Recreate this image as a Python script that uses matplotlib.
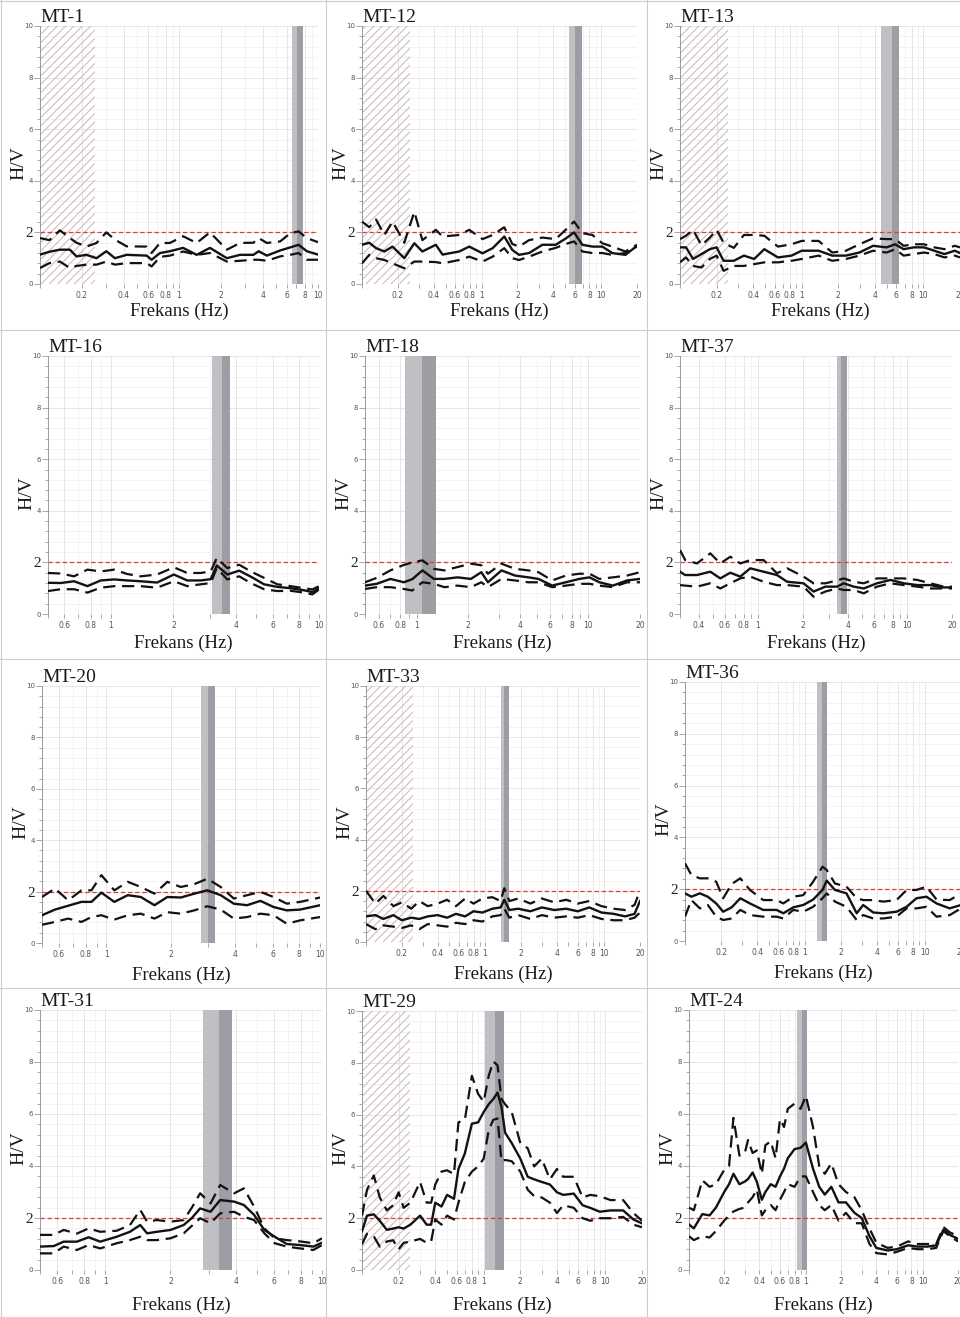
import matplotlib
matplotlib.use('Agg')
import matplotlib.pyplot as plt
from matplotlib.ticker import FixedLocator, FixedFormatter, NullFormatter, MultipleLocator
from matplotlib.lines import Line2D

# ---------------- data ----------------
MT1_f = [0.1, 0.117, 0.139, 0.164, 0.183, 0.216, 0.255, 0.30, 0.346, 0.42, 0.585, 0.635, 0.73, 0.86, 1.07,
         1.34, 1.67, 2.21, 2.75, 3.43, 3.74, 4.29, 5.34, 6.33, 7.25, 8.32, 10]
MT1_mean = [1.14, 1.25, 1.33, 1.33, 1.07, 1.13, 1.0, 1.27, 1.0, 1.13, 1.1, 0.94, 1.2, 1.27, 1.4,
            1.13, 1.4, 1.0, 1.13, 1.13, 1.27, 1.1, 1.3, 1.42, 1.52, 1.27, 1.14]
MT1_up = [1.78, 1.7, 2.08, 1.78, 1.6, 1.45, 1.59, 2.0, 1.72, 1.46, 1.45, 1.2, 1.59, 1.59, 1.85,
          1.59, 2.0, 1.33, 1.59, 1.6, 1.78, 1.59, 1.65, 1.97, 2.04, 1.78, 1.62]
MT1_lo = [0.62, 0.81, 0.87, 0.62, 0.7, 0.75, 0.75, 0.87, 0.75, 0.81, 0.81, 0.68, 1.05, 1.1, 1.26,
          1.13, 1.2, 0.87, 0.9, 0.94, 0.94, 0.9, 1.07, 1.13, 1.2, 0.94, 0.94]
MT1_band = [6.5, 7.05, 7.8]

MT12_f = [0.1, 0.115, 0.131, 0.154, 0.18, 0.226, 0.274, 0.32, 0.415, 0.472, 0.651, 0.789, 1.02, 1.24, 1.55,
          1.81, 2.06, 2.5, 3.23, 4.17, 5.06, 5.95, 6.98, 8.47, 10.25, 12.4, 16.0, 20]
MT12_mean = [1.52, 1.6, 1.39, 1.26, 1.45, 1.0, 1.58, 1.26, 1.52, 1.14, 1.26, 1.45, 1.19, 1.39, 1.84,
             1.32, 1.13, 1.2, 1.52, 1.52, 1.76, 2.0, 1.52, 1.45, 1.45, 1.2, 1.13, 1.48]
MT12_up = [2.42, 2.2, 2.5, 1.9, 2.42, 1.6, 2.8, 1.7, 2.1, 1.84, 1.9, 2.1, 1.74, 1.9, 2.2,
           1.55, 1.45, 1.7, 1.8, 1.74, 2.1, 2.42, 1.97, 1.9, 1.58, 1.45, 1.26, 1.52]
MT12_lo = [0.8, 1.13, 1.0, 0.93, 0.8, 0.61, 0.87, 0.87, 0.85, 0.8, 0.93, 1.06, 0.87, 1.06, 1.39,
           1.0, 0.93, 1.06, 1.26, 1.4, 1.55, 1.65, 1.26, 1.2, 1.2, 1.13, 1.2, 1.45]
MT12_band = [5.4, 6.0, 6.9]

MT13_f = [0.1, 0.112, 0.128, 0.15, 0.176, 0.2, 0.228, 0.277, 0.335, 0.407, 0.493, 0.638, 0.825, 1.0, 1.38,
          1.78, 2.31, 2.98, 3.86, 4.99, 5.86, 6.88, 8.36, 10.1, 12.3, 14.9, 18.1, 20]
MT13_mean = [1.42, 1.42, 0.97, 1.16, 1.35, 1.42, 0.9, 0.9, 1.1, 0.97, 1.35, 1.03, 1.1, 1.29, 1.29,
             1.1, 1.1, 1.22, 1.48, 1.42, 1.54, 1.35, 1.42, 1.42, 1.29, 1.16, 1.29, 1.2]
MT13_up = [1.74, 1.87, 2.1, 1.5, 1.8, 2.1, 1.6, 1.4, 1.9, 1.9, 1.87, 1.45, 1.54, 1.67, 1.67,
           1.22, 1.29, 1.54, 1.77, 1.74, 1.74, 1.48, 1.54, 1.54, 1.42, 1.35, 1.48, 1.42]
MT13_lo = [0.84, 1.03, 0.7, 0.64, 0.97, 1.1, 0.51, 0.7, 0.7, 0.77, 0.84, 0.84, 0.9, 0.97, 1.1,
           0.9, 0.97, 1.1, 1.29, 1.22, 1.35, 1.1, 1.16, 1.22, 1.16, 1.03, 1.1, 1.03]
MT13_band = [4.5, 5.5, 6.35]

MT16_f = [0.5, 0.575, 0.667, 0.773, 0.895, 1.04, 1.2, 1.39, 1.67, 2.01, 2.33, 2.7, 3.02, 3.23, 3.63,
          4.14, 4.7, 5.45, 6.31, 7.31, 8.47, 9.29, 10]
MT16_mean = [1.21, 1.2, 1.27, 1.08, 1.3, 1.34, 1.3, 1.27, 1.22, 1.53, 1.3, 1.3, 1.35, 1.88, 1.53,
             1.68, 1.45, 1.15, 1.05, 1.0, 0.92, 0.85, 1.0]
MT16_up = [1.59, 1.57, 1.46, 1.72, 1.65, 1.72, 1.55, 1.46, 1.53, 1.81, 1.59, 1.59, 1.65, 2.17, 1.78,
           1.91, 1.65, 1.4, 1.15, 1.08, 1.0, 0.95, 1.08]
MT16_lo = [0.89, 0.96, 0.96, 0.83, 1.02, 1.08, 1.08, 1.08, 1.02, 1.27, 1.08, 1.15, 1.2, 1.78, 1.34,
           1.46, 1.2, 0.96, 0.89, 0.9, 0.83, 0.76, 0.95]
MT16_band = [3.08, 3.43, 3.75]

MT18_f = [0.5, 0.585, 0.703, 0.842, 0.943, 1.08, 1.26, 1.45, 1.73, 2.07, 2.38, 2.6, 3.12, 3.74, 4.48,
          5.12, 6.16, 7.39, 8.86, 10.16, 11.6, 13.9, 16.8, 20]
MT18_mean = [1.1, 1.17, 1.36, 1.23, 1.35, 1.69, 1.36, 1.36, 1.42, 1.36, 1.62, 1.23, 1.69, 1.49, 1.42,
             1.36, 1.1, 1.23, 1.36, 1.42, 1.23, 1.1, 1.3, 1.36]
MT18_up = [1.23, 1.4, 1.69, 1.9, 2.0, 2.08, 1.75, 1.69, 1.82, 1.95, 1.89, 1.56, 1.95, 1.75, 1.69,
           1.62, 1.3, 1.49, 1.56, 1.56, 1.36, 1.42, 1.49, 1.62]
MT18_lo = [0.97, 1.04, 1.04, 0.97, 0.91, 1.23, 1.17, 1.04, 1.1, 1.04, 1.23, 1.04, 1.36, 1.3, 1.23,
           1.23, 1.04, 1.1, 1.17, 1.17, 1.1, 1.04, 1.23, 1.23]
MT18_band = [0.86, 1.08, 1.29]

MT37_f = [0.3, 0.325, 0.39, 0.479, 0.559, 0.652, 0.761, 0.888, 1.09, 1.34, 1.57, 2.02, 2.36, 2.83, 3.39,
          3.76, 4.39, 5.12, 6.28, 7.74, 9.5, 11.7, 14.3, 17.6, 20]
MT37_mean = [1.64, 1.51, 1.51, 1.64, 1.38, 1.6, 1.45, 1.77, 1.64, 1.51, 1.25, 1.19, 0.87, 1.06, 1.06,
             1.19, 1.06, 0.99, 1.19, 1.32, 1.19, 1.12, 1.12, 1.03, 1.03]
MT37_up = [2.48, 2.09, 1.96, 2.35, 1.96, 2.22, 1.96, 2.09, 2.09, 1.58, 1.77, 1.45, 1.19, 1.19, 1.3,
           1.38, 1.25, 1.19, 1.38, 1.38, 1.38, 1.32, 1.19, 1.06, 1.06]
MT37_lo = [1.12, 1.1, 1.06, 1.19, 0.99, 1.19, 1.38, 1.45, 1.25, 1.12, 1.12, 1.06, 0.67, 0.87, 0.99,
           0.93, 0.93, 0.8, 1.06, 1.19, 1.12, 1.06, 0.99, 0.99, 0.99]
MT37_band = [3.39, 3.6, 3.96]

MT20_f = [0.5, 0.575, 0.663, 0.765, 0.852, 0.948, 1.09, 1.26, 1.45, 1.68, 1.93, 2.23, 2.58, 2.97, 3.43,
          3.95, 4.56, 5.26, 6.06, 6.99, 8.07, 10]
MT20_mean = [1.08, 1.3, 1.45, 1.6, 1.6, 1.96, 1.6, 1.86, 1.79, 1.47, 1.79, 1.77, 1.92, 2.05, 1.86,
             1.53, 1.47, 1.64, 1.4, 1.27, 1.3, 1.47]
MT20_up = [1.79, 2.12, 1.66, 2.05, 2.05, 2.64, 2.05, 2.38, 2.18, 1.92, 2.38, 2.18, 2.29, 2.5, 2.18,
           1.73, 1.86, 1.99, 1.79, 1.53, 1.6, 1.77]
MT20_lo = [0.71, 0.82, 0.95, 0.82, 1.01, 1.08, 0.91, 1.08, 1.14, 0.95, 1.2, 1.14, 1.27, 1.43, 1.3,
           0.95, 1.01, 1.14, 1.08, 0.75, 0.88, 1.01]
MT20_band = [2.77, 2.98, 3.21]

MT33_f = [0.1, 0.12, 0.14, 0.17, 0.2, 0.24, 0.28, 0.33, 0.4, 0.48, 0.57, 0.68, 0.8, 0.95, 1.15,
          1.35, 1.45, 1.6, 1.9, 2.4, 3.0, 3.8, 4.8, 6, 7.5, 9.5, 12, 15, 18, 20]
MT33_mean = [1.0, 1.05, 0.9, 1.05, 0.85, 0.95, 0.9, 1.0, 1.05, 0.95, 1.1, 1.0, 1.2, 1.15, 1.3,
             1.35, 1.65, 1.25, 1.3, 1.2, 1.35, 1.25, 1.3, 1.2, 1.35, 1.15, 1.1, 1.0, 1.1, 1.6]
MT33_up = [2.0, 1.5, 1.8, 1.4, 1.55, 1.3, 1.6, 1.4, 1.5, 1.65, 1.4, 1.7, 1.5, 1.7, 1.75,
           1.6, 2.1, 1.6, 1.7, 1.5, 1.7, 1.55, 1.65, 1.5, 1.6, 1.4, 1.3, 1.25, 1.45, 2.0]
MT33_lo = [0.7, 0.5, 0.65, 0.6, 0.55, 0.65, 0.5, 0.7, 0.65, 0.6, 0.75, 0.7, 0.85, 0.8, 1.0,
           1.05, 1.3, 0.95, 1.05, 0.9, 1.05, 0.95, 1.0, 0.95, 1.05, 0.9, 0.85, 0.85, 0.95, 1.15]
MT33_band = [1.36, 1.45, 1.58]

MT36_f = [0.1, 0.113, 0.133, 0.155, 0.182, 0.208, 0.245, 0.289, 0.348, 0.449, 0.58, 0.66, 0.8, 0.968, 1.17,
          1.4, 1.52, 1.78, 2.22, 2.7, 3.06, 3.71, 4.5, 5.8, 7.04, 8.5, 10.3, 12.5, 16.1, 20]
MT36_mean = [1.84, 1.71, 1.84, 1.71, 1.45, 1.13, 1.3, 1.65, 1.45, 1.2, 1.2, 1.07, 1.3, 1.39, 1.6,
             1.97, 2.33, 1.97, 1.84, 1.07, 1.39, 1.1, 1.07, 1.13, 1.32, 1.65, 1.71, 1.45, 1.26, 1.39]
MT36_up = [3.0, 2.55, 2.42, 2.42, 2.29, 1.65, 2.2, 2.42, 1.97, 1.58, 1.58, 1.45, 1.71, 1.77, 2.29,
           2.87, 2.74, 2.22, 2.1, 1.65, 1.58, 1.58, 1.52, 1.58, 1.97, 1.97, 2.1, 1.6, 1.58, 1.84]
MT36_lo = [0.94, 1.58, 1.26, 1.39, 0.94, 0.81, 0.87, 1.2, 1.0, 0.94, 0.94, 0.87, 1.2, 1.13, 1.32,
           1.65, 1.84, 1.52, 1.32, 0.81, 1.0, 0.87, 0.87, 0.94, 1.26, 1.26, 1.32, 0.94, 1.0, 1.26]
MT36_band = [1.26, 1.39, 1.52]

MT31_f = [0.5, 0.578, 0.643, 0.74, 0.838, 0.948, 1.13, 1.3, 1.45, 1.56, 1.73, 2.0, 2.3, 2.51, 2.74,
          3.06, 3.39, 3.93, 4.36, 4.86, 5.42, 6.05, 6.88, 7.92, 9.12, 10]
MT31_mean = [0.9, 0.92, 1.09, 1.09, 1.26, 1.09, 1.28, 1.47, 1.73, 1.41, 1.47, 1.54, 1.73, 2.0, 2.37,
             2.24, 2.69, 2.63, 2.5, 2.12, 1.54, 1.28, 1.0, 0.96, 0.9, 1.05]
MT31_up = [1.35, 1.35, 1.54, 1.4, 1.6, 1.47, 1.51, 1.73, 2.31, 1.86, 1.92, 1.86, 1.92, 2.4, 2.95,
           2.56, 3.27, 2.95, 3.14, 2.44, 1.6, 1.22, 1.15, 1.1, 1.03, 1.22]
MT31_lo = [0.64, 0.64, 0.9, 0.77, 0.96, 0.83, 1.03, 1.15, 1.28, 1.15, 1.15, 1.22, 1.41, 1.7, 1.99,
           1.8, 2.18, 2.24, 2.05, 1.92, 1.41, 1.03, 0.9, 0.83, 0.77, 0.96]
MT31_band = [2.83, 3.35, 3.85]

MT29_f = [0.1, 0.11, 0.125, 0.14, 0.16, 0.18, 0.2, 0.22, 0.25, 0.3, 0.34, 0.37, 0.4, 0.45, 0.5,
          0.57, 0.62, 0.7, 0.8, 0.9, 1.0, 1.1, 1.2, 1.3, 1.4, 1.5, 1.7, 2.0, 2.3, 2.6,
          3.0, 3.5, 4.0, 4.5, 5.5, 6.5, 7.5, 9, 11, 14, 17, 20]
MT29_mean = [1.5, 2.1, 2.15, 1.9, 1.55, 1.6, 1.65, 1.6, 1.75, 2.1, 1.75, 1.75, 2.6, 2.45, 2.9,
             2.75, 3.9, 4.5, 5.65, 5.7, 6.1, 6.4, 6.6, 6.85, 6.3, 5.3, 4.9, 4.3, 3.6, 3.5,
             3.4, 3.3, 3.0, 2.9, 2.95, 2.5, 2.4, 2.25, 2.3, 2.3, 1.95, 1.8]
MT29_up = [2.1, 3.1, 3.65, 2.8, 2.3, 2.5, 3.0, 2.4, 2.6, 3.4, 2.6, 2.6, 3.3, 3.8, 3.85,
           3.7, 5.7, 5.8, 7.5, 6.8, 6.5, 7.5, 8.05, 7.9, 6.6, 6.4, 6.1, 4.9, 4.7, 4.0,
           4.3, 3.5, 3.9, 3.6, 3.6, 2.8, 2.9, 2.85, 2.7, 2.7, 2.2, 1.9]
MT29_lo = [1.0, 1.4, 1.3, 0.9, 1.1, 1.15, 0.8, 1.05, 1.1, 1.2, 1.05, 1.1, 1.95, 1.75, 2.1,
           1.95, 2.6, 3.4, 3.8, 4.0, 4.3, 5.4, 5.8, 5.85, 4.2, 4.25, 4.2, 3.8, 3.1, 2.85,
           2.8, 2.6, 2.2, 2.5, 2.4, 2.0, 1.9, 2.0, 2.0, 2.05, 1.75, 1.65]
MT29_band = [1.02, 1.23, 1.46]

MT24_f = [0.1, 0.11, 0.13, 0.15, 0.17, 0.2, 0.22, 0.24, 0.27, 0.3, 0.32, 0.35, 0.38, 0.42, 0.45,
          0.5, 0.55, 0.6, 0.65, 0.7, 0.8, 0.9, 1.0, 1.15, 1.3, 1.45, 1.65, 1.9, 2.2, 2.6,
          3.0, 3.5, 4.0, 5.0, 6.0, 7.5, 9, 11, 13, 15, 17, 20]
MT24_mean = [1.75, 1.6, 2.15, 2.1, 2.4, 3.0, 3.3, 3.7, 3.3, 3.4, 3.5, 3.75, 3.4, 2.7, 3.0,
             3.3, 3.2, 3.6, 3.9, 4.3, 4.65, 4.7, 4.9, 3.9, 3.2, 2.9, 3.2, 2.6, 2.6, 2.2,
             2.0, 1.3, 0.85, 0.75, 0.8, 0.95, 0.9, 0.9, 0.95, 1.55, 1.35, 1.2]
MT24_up = [2.4, 2.3, 3.45, 3.2, 3.3, 3.85, 4.0, 5.85, 4.4, 4.5, 5.0, 4.5, 4.6, 3.7, 4.8,
           4.95, 4.3, 5.8, 5.5, 6.2, 6.4, 6.2, 6.7, 5.5, 4.0, 3.7, 4.1, 3.3, 3.0, 2.8,
           2.3, 1.6, 1.05, 0.85, 0.9, 1.1, 1.0, 1.0, 1.0, 1.65, 1.45, 1.3]
MT24_lo = [1.3, 1.15, 1.3, 1.25, 1.5, 1.9, 2.1, 2.25, 2.35, 2.4, 2.6, 2.8, 3.1, 2.1, 2.3,
           2.5, 2.3, 2.7, 3.0, 3.3, 3.2, 3.6, 3.6, 3.0, 2.5, 2.3, 2.5, 1.9, 2.2, 1.8,
           1.8, 1.0, 0.65, 0.6, 0.7, 0.85, 0.8, 0.8, 0.85, 1.5, 1.3, 1.1]
MT24_band = [0.84, 0.92, 1.02]

NAMES = ['MT-1', 'MT-12', 'MT-13', 'MT-16', 'MT-18', 'MT-37',
         'MT-20', 'MT-33', 'MT-36', 'MT-31', 'MT-29', 'MT-24']
XRANGE = [(0.1, 10), (0.1, 20), (0.1, 20), (0.5, 10), (0.5, 20), (0.3, 20),
          (0.5, 10), (0.1, 20), (0.1, 20), (0.5, 10), (0.1, 20), (0.1, 20)]
HATCH_LIMIT = [0.25, 0.25, 0.25, None, None, None, None, 0.25, None, None, 0.25, None]
THRESHOLD = 2.0
MAJOR_X = [0.2, 0.4, 0.6, 0.8, 1, 2, 4, 6, 8, 10, 20]

SERIES = [
    (MT1_f, MT1_mean, MT1_up, MT1_lo, MT1_band),
    (MT12_f, MT12_mean, MT12_up, MT12_lo, MT12_band),
    (MT13_f, MT13_mean, MT13_up, MT13_lo, MT13_band),
    (MT16_f, MT16_mean, MT16_up, MT16_lo, MT16_band),
    (MT18_f, MT18_mean, MT18_up, MT18_lo, MT18_band),
    (MT37_f, MT37_mean, MT37_up, MT37_lo, MT37_band),
    (MT20_f, MT20_mean, MT20_up, MT20_lo, MT20_band),
    (MT33_f, MT33_mean, MT33_up, MT33_lo, MT33_band),
    (MT36_f, MT36_mean, MT36_up, MT36_lo, MT36_band),
    (MT31_f, MT31_mean, MT31_up, MT31_lo, MT31_band),
    (MT29_f, MT29_mean, MT29_up, MT29_lo, MT29_band),
    (MT24_f, MT24_mean, MT24_up, MT24_lo, MT24_band),
]

# ---------------- layout (pixels: left, right, top, bottom) ----------------
W, H = 960, 1317
BOXES = [(40, 318, 26, 284), (362, 637, 26, 284), (680, 960, 26, 284),
         (48, 319, 356, 614), (365, 640, 356, 614), (680, 952, 356, 614),
         (42, 320, 686, 943), (366, 640, 686, 942), (685, 961, 682, 941),
         (40, 322, 1010, 1270), (362, 642, 1011, 1270), (689, 958, 1010, 1270)]
XLAB_OFF = [27, 27, 27, 29, 29, 29, 32, 32, 32, 35, 35, 35]

SERIF = ['Liberation Serif', 'DejaVu Serif']
HATCH_COLOR = '#cfbdbd'
plt.rcParams['hatch.color'] = HATCH_COLOR
plt.rcParams['hatch.linewidth'] = 0.8

fig = plt.figure(figsize=(W / 100, H / 100), dpi=100)
fig.patch.set_facecolor('white')

LIGHT_BAND = '#bfbfc4'
DARK_BAND = '#9d9da4'
INK = '#121212'

for i, name in enumerate(NAMES):
    f, mean, up, lo, band = SERIES[i]
    xmin, xmax = XRANGE[i]
    l, r, t, b = BOXES[i]
    ax = fig.add_axes([l / W, 1 - b / H, (r - l) / W, (b - t) / H])
    ax.set_xscale('log')
    ax.set_xlim(xmin, xmax)
    ax.set_ylim(0, 10)
    ax.set_facecolor('white')
    ax.set_axisbelow(True)

    majors = [v for v in MAJOR_X if xmin <= v <= xmax * 1.0001]
    minors = []
    for d in (0.1, 1, 10):
        for m in range(1, 10):
            v = m * d
            if xmin - 1e-9 <= v <= xmax + 1e-9 and all(abs(v - q) > 1e-9 for q in majors):
                minors.append(v)
    ax.xaxis.set_major_locator(FixedLocator(majors))
    ax.xaxis.set_major_formatter(FixedFormatter(['%g' % v for v in majors]))
    ax.xaxis.set_minor_locator(FixedLocator(minors))
    ax.xaxis.set_minor_formatter(NullFormatter())
    ax.set_yticks([0, 2, 4, 6, 8, 10])
    ax.set_yticklabels(['0', '2', '4', '6', '8', '10'])
    ax.yaxis.set_minor_locator(MultipleLocator(0.4))

    ax.grid(which='major', color='#e2e2e2', lw=0.6)
    ax.grid(which='minor', color='#efefef', lw=0.5)

    for s in ('top', 'right', 'bottom'):
        ax.spines[s].set_visible(False)
    ax.spines['left'].set_color('#9a9a9a')
    ax.spines['left'].set_linewidth(0.7)

    ax.tick_params(axis='x', which='both', direction='out', length=3, width=0.6,
                   color='#9a9a9a', labelsize=5.5, labelcolor='#555555', pad=2)
    ax.tick_params(axis='y', which='major', direction='out', length=4, width=0.6,
                   color='#9a9a9a', labelsize=5, labelcolor='#555555', pad=1)
    ax.tick_params(axis='y', which='minor', direction='out', length=2.5, width=0.6,
                   color='#9a9a9a')
    lab2 = ax.get_yticklabels()[1]
    lab2.set_fontsize(11)
    lab2.set_fontfamily(SERIF)
    lab2.set_color('#222222')

    if HATCH_LIMIT[i] is not None:
        ax.axvspan(xmin, HATCH_LIMIT[i], facecolor='none', edgecolor=HATCH_COLOR,
                   hatch='////', lw=0, zorder=1)
    ax.axvspan(band[0], band[1], color=LIGHT_BAND, lw=0, zorder=1)
    ax.axvspan(band[1], band[2], color=DARK_BAND, lw=0, zorder=1)

    ax.axhline(THRESHOLD, color='#dd3a3a', lw=0.9, ls=(0, (3.5, 2.2)), zorder=2)

    ax.plot(f, up, color=INK, lw=1.6, ls=(0, (5.5, 3)), zorder=3)
    ax.plot(f, lo, color=INK, lw=1.6, ls=(0, (5.5, 3)), zorder=3)
    ax.plot(f, mean, color=INK, lw=1.7, zorder=4)

    fig.text(l / W, 1 - (t - 4) / H, name, ha='left', va='baseline',
             fontsize=14, family=SERIF, color='#1a1a1a')
    fig.text((l + r) / 2 / W, 1 - (b + XLAB_OFF[i]) / H, 'Frekans (Hz)',
             ha='center', va='center', fontsize=13.5, family=SERIF, color='#1a1a1a')
    fig.text((l - 21) / W, 1 - (b - 0.47 * (b - t)) / H, 'H/V', rotation=90,
             ha='center', va='center', fontsize=14, family=SERIF, color='#1a1a1a')

# panel separators
for x in (326, 647):
    fig.add_artist(Line2D([x / W, x / W], [0, 1], transform=fig.transFigure,
                          color='#cccccc', lw=0.8))
for y in (330, 659, 988):
    fig.add_artist(Line2D([0, 1], [1 - y / H, 1 - y / H], transform=fig.transFigure,
                          color='#cccccc', lw=0.8))
fig.add_artist(Line2D([0.5 / W, 0.5 / W], [0, 1], transform=fig.transFigure,
                      color='#cccccc', lw=0.8))
fig.add_artist(Line2D([0, 1], [1 - 0.5 / H, 1 - 0.5 / H], transform=fig.transFigure,
                      color='#cccccc', lw=0.8))

fig.savefig('out.png', dpi=100, facecolor='white')
